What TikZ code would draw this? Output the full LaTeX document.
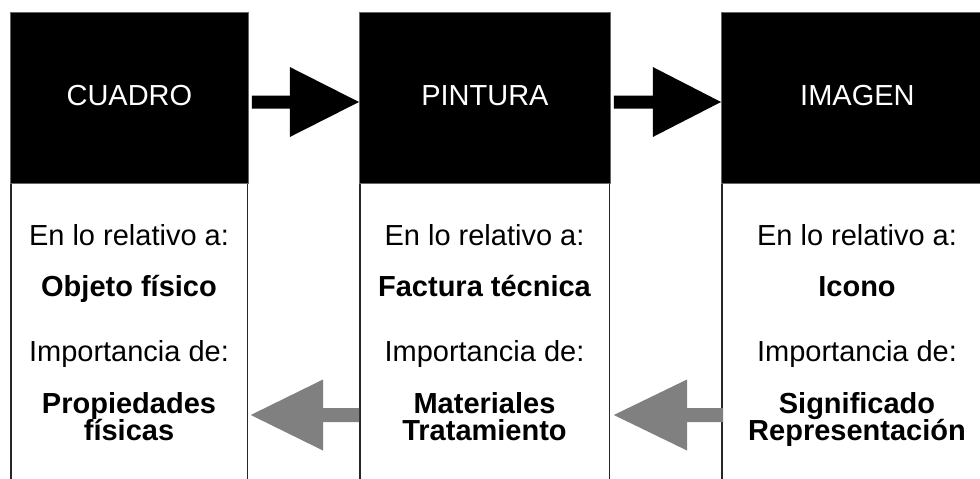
\documentclass[tikz,border=0pt]{standalone}
\usepackage{fontspec}
\setmainfont{Liberation Sans}
\usetikzlibrary{calc}
\definecolor{arrowgray}{HTML}{808080}
\newcommand\tightlines{\lineskiplimit=-100pt\relax}
\newcommand\blockarrow[6]{\fill[#6] ($(#1)+(0,-#4)$) -- ($(#1)+(#3,-#4)$) -- ($(#1)+(#3,-#5)$) -- (#2) -- ($(#1)+(#3,#5)$) -- ($(#1)+(#3,#4)$) -- ($(#1)+(0,#4)$) -- cycle;}
\begin{document}
\begin{tikzpicture}[x=1pt,y=-1pt,
  header/.style={fill=black, draw=black!60, line width=0.8pt, inner sep=0pt, anchor=north west,
    minimum height=171pt, text height=21pt, text depth=6pt,
    font=\fontsize{29}{34}\selectfont, text=white},
  side/.style={draw=black!85, line width=1.3pt},
  plain/.style={anchor=base, inner sep=0pt, font=\fontsize{29}{27}\selectfont\tightlines, align=center},
  strong/.style={anchor=base, inner sep=0pt, font=\fontsize{29}{27}\selectfont\tightlines\bfseries, align=center}
]
\useasboundingbox (0,0) rectangle (980,479);
\clip (0,0) rectangle (980,479);
\fill[white] (0,0) rectangle (980,479);

% headers
\node[header, minimum width=238pt] (h1) at (10,12) {CUADRO};
\node[header, minimum width=251pt] (h2) at (359,12) {PINTURA};
\node[header, minimum width=272pt] (h3) at (721,12) {IMAGEN};

% body side lines
\coordinate (b1l) at (h1.south west |- 0,479);
\coordinate (b1r) at (h1.south east |- 0,479);
\coordinate (b2l) at (h2.south west |- 0,479);
\coordinate (b2r) at (h2.south east |- 0,479);
\coordinate (b3l) at (h3.south west |- 0,479);
\draw[side] ($(h1.south west)+(1,0)$) -- ($(b1l)+(1,0)$);
\draw[side] ($(h1.south east)+(-1,0)$) -- ($(b1r)+(-1,0)$);
\draw[side] ($(h2.south west)+(1,0)$) -- ($(b2l)+(1,0)$);
\draw[side] ($(h2.south east)+(-1,0)$) -- ($(b2r)+(-1,0)$);
\draw[side] ($(h3.south west)+(1,0)$) -- ($(b3l)+(1,0)$);

% body texts column 1 (two-line nodes are anchored on the baseline of their last line)
\node[plain] (c1a) at (129,245) {En lo relativo a:};
\node[strong] (c1b) at (129,296) {Objeto físico};
\node[plain] (c1c) at (129,361) {Importancia de:};
\node[strong] (c1d) at (129,440) {Propiedades\\físicas};

% column 2
\node[plain] (c2a) at (484.5,245) {En lo relativo a:};
\node[strong] (c2b) at (484.5,296) {Factura técnica};
\node[plain] (c2c) at (484.5,361) {Importancia de:};
\node[strong] (c2d) at (484.5,440) {Materiales\\Tratamiento};

% column 3
\node[plain] (c3a) at (857,245) {En lo relativo a:};
\node[strong] (c3b) at (857,296) {Icono};
\node[plain] (c3c) at (857,361) {Importancia de:};
\node[strong] (c3d) at (857,440) {Significado\\Representación};

% black arrows
\coordinate (k1s) at ($(h1.east |- 0,102)+(3,0)$);
\coordinate (k1t) at (h2.west |- 0,102);
\coordinate (k2s) at ($(h2.east |- 0,102)+(3,0)$);
\coordinate (k2t) at (h3.west |- 0,102);
\blockarrow{k1s}{k1t}{38}{6.5}{35}{black}
\blockarrow{k2s}{k2t}{39}{6.5}{35}{black}

% gray arrows
\coordinate (g1s) at (h2.west |- 0,415);
\coordinate (g1t) at ($(h1.east |- 0,415)+(2,0)$);
\coordinate (g2s) at ($(h3.west |- 0,415)+(2,0)$);
\coordinate (g2t) at ($(h2.east |- 0,415)+(3,0)$);
\blockarrow{g1s}{g1t}{-36}{7}{35.5}{arrowgray}
\blockarrow{g2s}{g2t}{-36}{7}{35.5}{arrowgray}
\end{tikzpicture}
\end{document}
